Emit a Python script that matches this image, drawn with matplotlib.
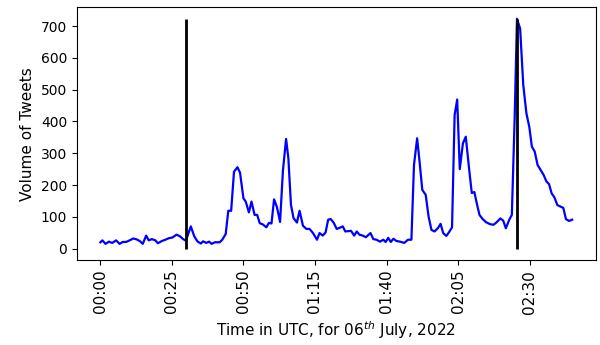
import numpy as np
import matplotlib
matplotlib.use("Agg")
import matplotlib.pyplot as plt

# minutes after 00:00 UTC, 06 July 2022
minutes = [0, 0.7, 1.8, 3.0, 4.1, 5.5, 6.7, 7.8, 9.0, 10.2, 11.5, 12.7, 13.9, 14.8,
           16.0, 16.9, 18.0, 19.2, 20.1, 21.5, 22.7, 24.0, 25.2, 26.6, 27.8, 28.9,
           29.9, 31.6, 32.8, 33.9, 35.1, 35.9, 37.0, 38.0, 38.9, 40.0, 41.7, 42.6,
           43.8, 44.7, 45.7, 46.7, 47.9, 48.8, 50.0, 50.8, 51.9, 52.8, 53.9, 54.8,
           55.7, 56.8, 58.0, 58.9, 59.8, 60.7, 61.7, 62.8, 63.8, 64.9, 65.7, 66.6,
           67.5, 68.7, 69.6, 70.8, 72.0, 73.1, 74.3, 75.7, 76.6, 77.7, 78.7, 79.6,
           80.5, 81.5, 82.6, 83.5, 84.7, 85.6, 86.7, 87.6, 88.7, 89.6, 90.5, 91.7,
           92.8, 94.4, 95.4, 96.5, 97.7, 98.9, 99.7, 100.6, 101.5, 102.4, 103.5,
           104.7, 106.2, 107.5, 108.7, 109.6, 110.7, 111.6, 112.5, 113.7, 114.7,
           115.7, 116.8, 118.0, 118.9, 119.8, 120.9, 121.8, 122.9, 123.8, 124.7,
           125.6, 126.7, 127.7, 128.9, 129.8, 130.7, 131.6, 132.5, 133.6, 134.8,
           136.2, 137.4, 138.5, 139.8, 140.8, 141.7, 142.9, 143.8, 144.8, 145.6,
           146.7, 147.8, 148.9, 149.9, 150.8, 151.8, 152.8, 153.9, 154.9, 155.9,
           156.8, 157.7, 158.7, 159.7, 160.9, 161.8, 162.7, 163.8, 164.9]

volume = [20, 26, 15, 22, 18, 26, 15, 21, 21, 26, 32, 29, 23, 15,
          41, 26, 30, 26, 17, 24, 28, 33, 35, 44, 39, 30,
          25, 70, 39, 23, 16, 23, 18, 22, 15, 20, 20, 28,
          46, 119, 119, 242, 256, 239, 158, 148, 114, 148, 106, 106,
          80, 76, 67, 81, 79, 155, 131, 84, 246, 345, 284, 138,
          96, 82, 119, 72, 62, 62, 49, 28, 49, 41, 51, 91,
          93, 82, 62, 65, 70, 54, 55, 56, 41, 54, 44, 41,
          36, 49, 30, 28, 22, 28, 21, 34, 21, 31, 24,
          22, 18, 28, 28, 263, 347, 269, 185, 169, 101,
          59, 54, 65, 78, 49, 40, 51, 67, 420, 469,
          250, 331, 352, 248, 175, 178, 140, 106, 93, 83,
          77, 75, 83, 95, 88, 64, 91, 106, 414, 723,
          692, 514, 425, 383, 321, 305, 263, 247, 232, 211,
          203, 174, 161, 137, 132, 128, 93, 87, 91]

# event markers (minutes after 00:00)
events = [29.9, 145.6]

tick_minutes = np.arange(0, 151, 25)
tick_labels = ["%02d:%02d" % (m // 60, m % 60) for m in tick_minutes]

fig = plt.figure(figsize=(6, 3.45), dpi=100)
ax = fig.add_axes([0.128, 0.246, 0.865, 0.733])

ax.plot(minutes, volume, color="blue", linewidth=1.6)
ax.vlines(events, 0, max(volume), color="black", linewidth=2)

ax.set_xticks(tick_minutes)
ax.set_xticklabels(tick_labels, rotation=90, fontsize=11)
ax.tick_params(axis="y", labelsize=10)
ax.set_xlabel("Time in UTC, for 06$^{th}$ July, 2022", fontsize=11)
ax.set_ylabel("Volume of Tweets", fontsize=11)

fig.savefig("out.png", dpi=100)
